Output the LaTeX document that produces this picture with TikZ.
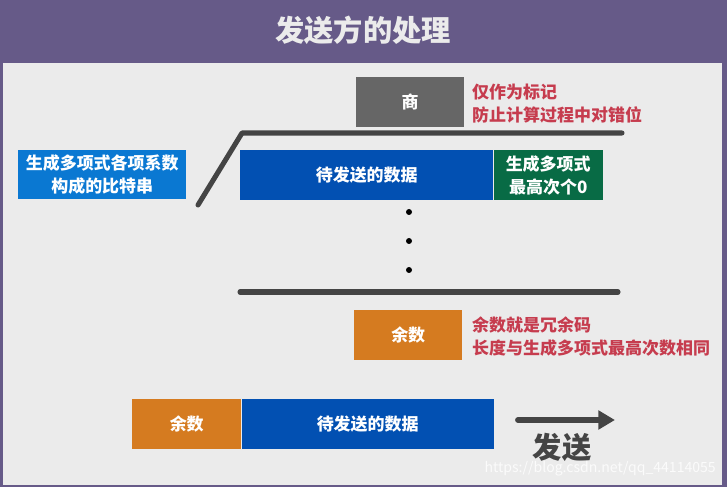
\documentclass[tikz,border=0pt]{standalone}
\usepackage{fontspec}
\setmainfont{Noto Sans CJK SC}
\usepackage{tikz}
\usepackage{xcolor}
\usetikzlibrary{arrows.meta,positioning,calc}
\definecolor{Plum}{HTML}{665A88}
\definecolor{Paper}{HTML}{EBEBEB}
\definecolor{Sky}{HTML}{0A78D2}
\definecolor{Navy}{HTML}{0250B2}
\definecolor{Pine}{HTML}{086B45}
\definecolor{Slate}{HTML}{666666}
\definecolor{Amber}{HTML}{D57B20}
\definecolor{Crimson}{HTML}{C63C4E}
\definecolor{Ink}{HTML}{444444}
\tikzset{
    every node/.style={font=\fontsize{14.5}{19.5}\selectfont\bfseries},
    bitblock/.style={
        fill=#1, text=white, minimum height=1.5cm,
        inner sep=0pt, align=center, sharp corners
    },
    noteline/.style={
        text=Crimson, align=left, anchor=west, inner sep=0pt
    },
    barline/.style={
        line width=4.3pt, color=Ink, line cap=round, line join=round
    },
}
\begin{document}
\begin{tikzpicture}[x=0.03cm, y=-0.03cm]
    % Frame
    \useasboundingbox (0,0) rectangle (727,487);
    \fill[Plum] (0,0) rectangle (727,487);
    \fill[Paper] (3,63) rectangle (722,485);
    \node[text=Paper, font=\fontsize{25}{30}\selectfont\bfseries] (title) at (363,30) {发送方的处理};

    % Generator bit string
    \node[bitblock=Sky, minimum width=5.04cm, minimum height=1.47cm, anchor=north west] (gen) at (18,150) {生成多项式各项系数\\构成的比特串};

    % Quotient
    \node[bitblock=Slate, minimum width=3.24cm, anchor=north west] (quot) at (356,77) {商};
    \node[noteline] (quotnote) at (472,104) {仅作为标记\\防止计算过程中对错位};

    % Dividend
    \node[bitblock=Navy, minimum width=7.59cm, anchor=north west] (data) at (240,150) {待发送的数据};
    \node[bitblock=Pine, minimum width=3.27cm, right=0pt of data] (zeros) {生成多项式\\最高次个0};

    % Division bracket
    \coordinate (brfoot) at (198,205);
    \coordinate (brknee) at (242,133);
    \coordinate (brend) at (622,133);
    \draw[barline] (brfoot) -- (brknee) -- (brend);

    % Steps left out
    \foreach \y in {212,241,270} {
        \fill[black] (409,\y) circle (3);
    }

    % Remainder
    \coordinate (restl) at (240,292);
    \coordinate (restr) at (618,292);
    \draw[barline] (restl) -- (restr);
    \node[bitblock=Amber, minimum width=3.24cm, anchor=north west] (rem) at (354,310) {余数};
    \node[noteline] (remnote) at (472,337) {余数就是冗余码\\长度与生成多项式最高次数相同};

    % Frame to send
    \node[bitblock=Amber, minimum width=3.27cm, anchor=north west] (sendrem) at (132,399) {余数};
    \node[bitblock=Navy, minimum width=7.56cm, right=0pt of sendrem] (senddata) {待发送的数据};
    \coordinate (sendtail) at (518,420);
    \coordinate (sendtip) at (615,420);
    \draw[line width=5pt, Ink, line cap=round, -{Triangle[length=0.5cm, width=0.55cm, line cap=butt]}] (sendtail) -- (sendtip);
    \node[text=Ink, inner sep=0pt, font=\fontsize{25}{30}\selectfont\bfseries] (sendlbl) at (562,447) {发送};

    % Watermark
    \node[text=white, opacity=0.8, inner sep=0pt, font=\fontsize{12}{14}\selectfont, anchor=east] (mark) at (716,469) {https://blog.csdn.net/qq\_44114055};
\end{tikzpicture}
\end{document}
